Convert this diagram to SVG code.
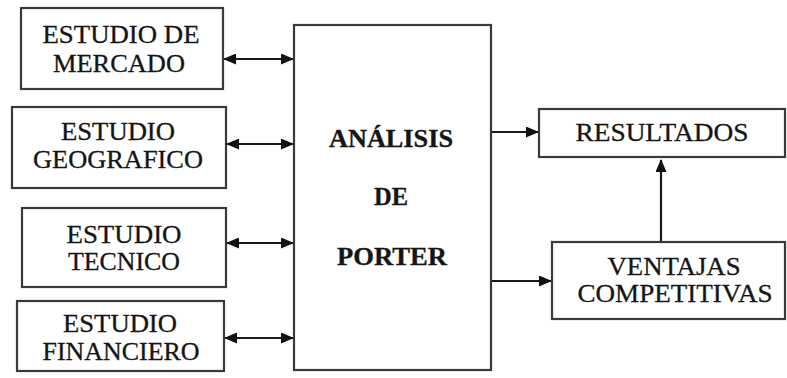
<svg xmlns="http://www.w3.org/2000/svg" width="787" height="378" viewBox="0 0 787 378">
<style>
.box{fill:#fff;stroke:#3a3a3a;stroke-width:2.2}
.t{font-family:"Liberation Serif","Times New Roman",serif;font-size:25px;fill:#151515;text-anchor:middle;stroke:#151515;stroke-width:0.3}
.b{font-weight:bold}
.c{stroke:#1a1a1a;stroke-width:2.2;fill:none}
</style>
<defs>
<marker id="ah" markerWidth="13" markerHeight="11" refX="12" refY="5.5" orient="auto-start-reverse" markerUnits="userSpaceOnUse">
<path d="M0,0 L13,5.5 L0,11 z" fill="#111"/>
</marker>
</defs>
<rect width="787" height="378" fill="#fff"/>
<g id="connectors">
<line class="c" x1="224" y1="59" x2="293" y2="59" marker-start="url(#ah)" marker-end="url(#ah)"/>
<line class="c" x1="227" y1="144" x2="293" y2="144" marker-start="url(#ah)" marker-end="url(#ah)"/>
<line class="c" x1="227" y1="243" x2="293" y2="243" marker-start="url(#ah)" marker-end="url(#ah)"/>
<line class="c" x1="225" y1="338" x2="293" y2="338" marker-start="url(#ah)" marker-end="url(#ah)"/>
<line class="c" x1="492" y1="132" x2="538" y2="132" marker-end="url(#ah)"/>
<line class="c" x1="492" y1="281" x2="551" y2="281" marker-end="url(#ah)"/>
<line class="c" x1="661" y1="242" x2="661" y2="160" marker-end="url(#ah)"/>
</g>
<g id="mercado">
<rect class="box" x="21" y="8" width="202" height="81"/>
<text class="t" x="121" y="43" textLength="157" lengthAdjust="spacingAndGlyphs">ESTUDIO DE</text>
<text class="t" x="119" y="72" textLength="132" lengthAdjust="spacingAndGlyphs">MERCADO</text>
</g>
<g id="geografico">
<rect class="box" x="12" y="107" width="214" height="81"/>
<text class="t" x="118" y="140" textLength="114" lengthAdjust="spacingAndGlyphs">ESTUDIO</text>
<text class="t" x="118" y="168" textLength="170" lengthAdjust="spacingAndGlyphs">GEOGRAFICO</text>
</g>
<g id="tecnico">
<rect class="box" x="22" y="208" width="204" height="79"/>
<text class="t" x="124" y="243" textLength="115" lengthAdjust="spacingAndGlyphs">ESTUDIO</text>
<text class="t" x="124" y="270" textLength="112" lengthAdjust="spacingAndGlyphs">TECNICO</text>
</g>
<g id="financiero">
<rect class="box" x="17" y="301" width="207" height="70"/>
<text class="t" x="120" y="332" textLength="114" lengthAdjust="spacingAndGlyphs">ESTUDIO</text>
<text class="t" x="121" y="360" textLength="157" lengthAdjust="spacingAndGlyphs">FINANCIERO</text>
</g>
<g id="porter">
<rect class="box" x="294" y="25" width="197" height="345"/>
<text class="t b" x="391" y="147" textLength="124" lengthAdjust="spacingAndGlyphs">ANÁLISIS</text>
<text class="t b" x="391" y="205" textLength="34" lengthAdjust="spacingAndGlyphs">DE</text>
<text class="t b" x="392" y="265" textLength="110" lengthAdjust="spacingAndGlyphs">PORTER</text>
</g>
<g id="resultados">
<rect class="box" x="539" y="109" width="246" height="48"/>
<text class="t" x="662" y="141" textLength="173" lengthAdjust="spacingAndGlyphs">RESULTADOS</text>
</g>
<g id="ventajas">
<rect class="box" x="552" y="242" width="233" height="77"/>
<text class="t" x="674" y="275" textLength="133" lengthAdjust="spacingAndGlyphs">VENTAJAS</text>
<text class="t" x="675" y="302" textLength="195" lengthAdjust="spacingAndGlyphs">COMPETITIVAS</text>
</g>
</svg>
